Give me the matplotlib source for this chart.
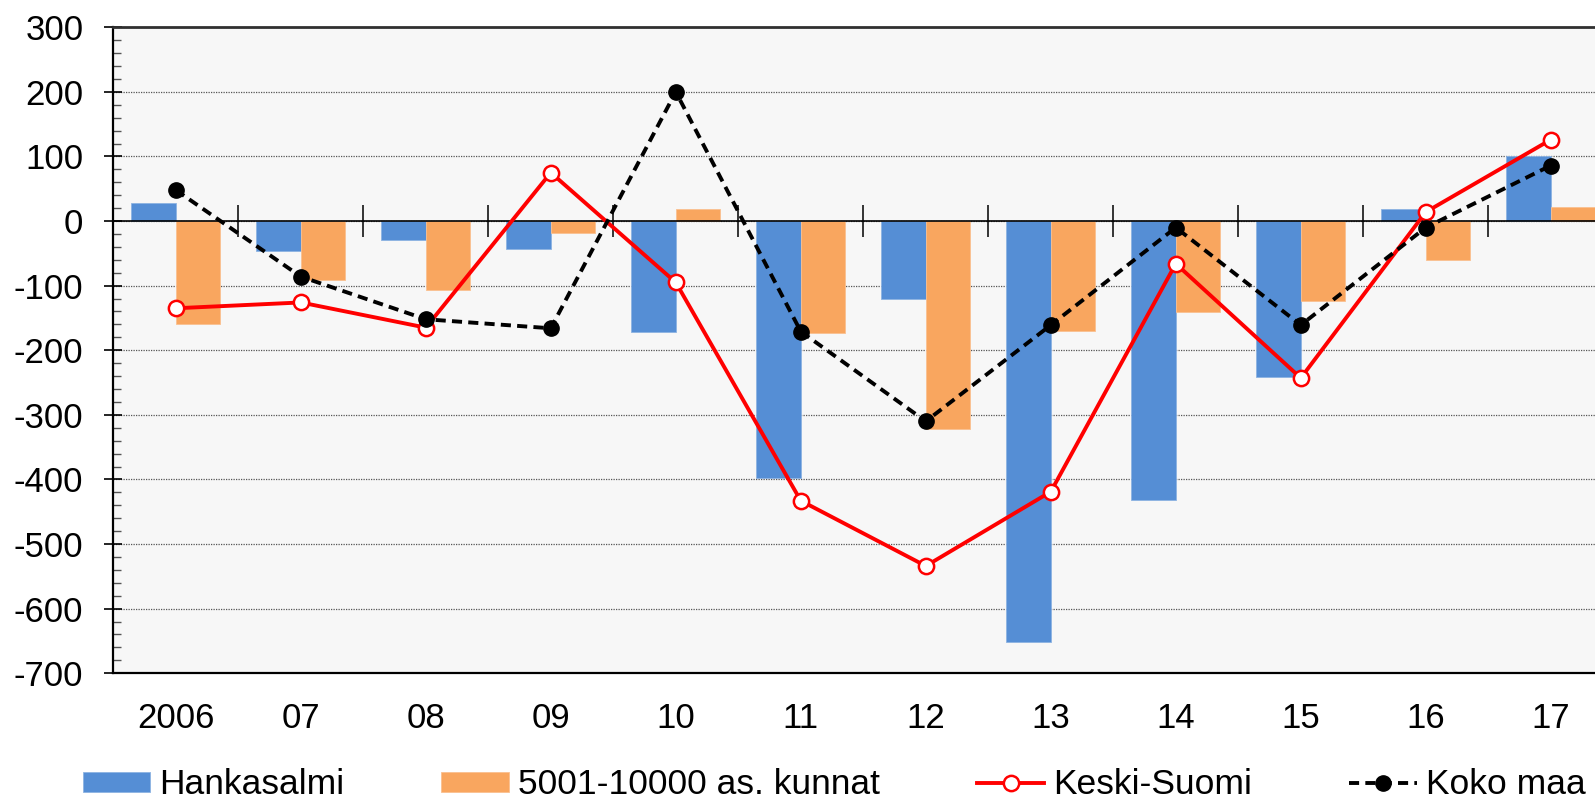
import matplotlib
matplotlib.use("Agg")
import matplotlib.pyplot as plt
import numpy as np
from matplotlib.ticker import MultipleLocator

years = ["2006", "07", "08", "09", "10", "11", "12", "13", "14", "15", "16", "17"]
hankasalmi = [28, -47, -30, -44, -172, -398, -120, -651, -432, -241, 19, 100]
kunnat = [-159, -92, -107, -19, 19, -174, -322, -170, -141, -123, -60, 22]
keski_suomi = [-135, -126, -165, 75, -95, -433, -534, -419, -66, -243, 14, 126]
koko_maa = [48, -86, -152, -166, 200, -171, -310, -161, -10, -161, -10, 86]

plt.rcParams['font.family'] = ['Liberation Sans', 'DejaVu Sans']
plt.rcParams['axes.unicode_minus'] = False

fig = plt.figure(figsize=(15.95, 8.08), dpi=100)
# plot area runs past the right edge of the picture, like the original
ax = fig.add_axes([113.3 / 1595, (808 - 673.2) / 808, 1500 / 1595, 645.9 / 808])
ax.set_facecolor('#F7F7F7')

x = np.arange(len(years))
w = 0.357
b1 = ax.bar(x - w / 2, hankasalmi, w, color='#558ED5', edgecolor='#8DB3E2', linewidth=0.6,
            label='Hankasalmi', zorder=2)
b2 = ax.bar(x + w / 2, kunnat, w, color='#F9A65F', edgecolor='#FAC090', linewidth=0.6,
            label='5001-10000 as. kunnat', zorder=2)
l1, = ax.plot(x, keski_suomi, color='#FF0000', lw=2.8, marker='o', ms=11, mfc='white',
              mec='#FF0000', mew=1.8, label='Keski-Suomi', zorder=4)
l2, = ax.plot(x, koko_maa, color='black', lw=2.8, ls=(0, (2.6, 1.6)), marker='o', ms=11,
              mfc='black', mec='black', label='Koko maa', zorder=5)

ax.axhline(0, color='black', lw=1.2, zorder=3)
# category tick marks sit on the zero line
ax.plot(np.arange(len(years) + 1) - 0.5, np.zeros(len(years) + 1), ls='none',
        marker='|', ms=23, mew=1.1, color='black', zorder=3)

ax.set_xlim(-0.5, len(years) - 0.5)
ax.set_ylim(-700, 300)
ax.set_xticks(x)
ax.set_xticklabels(years)
ax.yaxis.set_major_locator(MultipleLocator(100))
ax.yaxis.set_minor_locator(MultipleLocator(20))
ax.tick_params(axis='x', length=0, pad=21, labelsize=25)
ax.tick_params(axis='y', which='major', direction='inout', length=13, width=1.2,
               pad=15, labelsize=25)
ax.tick_params(axis='y', which='minor', direction='in', length=5.5, width=1.0,
               color='#555555')
ax.grid(axis='y', which='major', color='#555555', ls=(0, (1, 1)), lw=0.9, zorder=1)

for s in ['left', 'bottom']:
    ax.spines[s].set_color('black')
    ax.spines[s].set_linewidth(1.6)
ax.spines['top'].set_color('#303030')
ax.spines['top'].set_linewidth(2.0)
ax.spines['right'].set_visible(False)

fig.legend([b1, b2, l1, l2], [b1.get_label(), b2.get_label(), l1.get_label(), l2.get_label()],
           loc='center', bbox_to_anchor=(834 / 1595, 1 - 785 / 808), ncol=4,
           frameon=False, fontsize=25.5, handlelength=1.9, handleheight=0.5,
           handletextpad=0.25, columnspacing=2.75, borderaxespad=0, borderpad=0)

fig.savefig('out.png', dpi=100)
